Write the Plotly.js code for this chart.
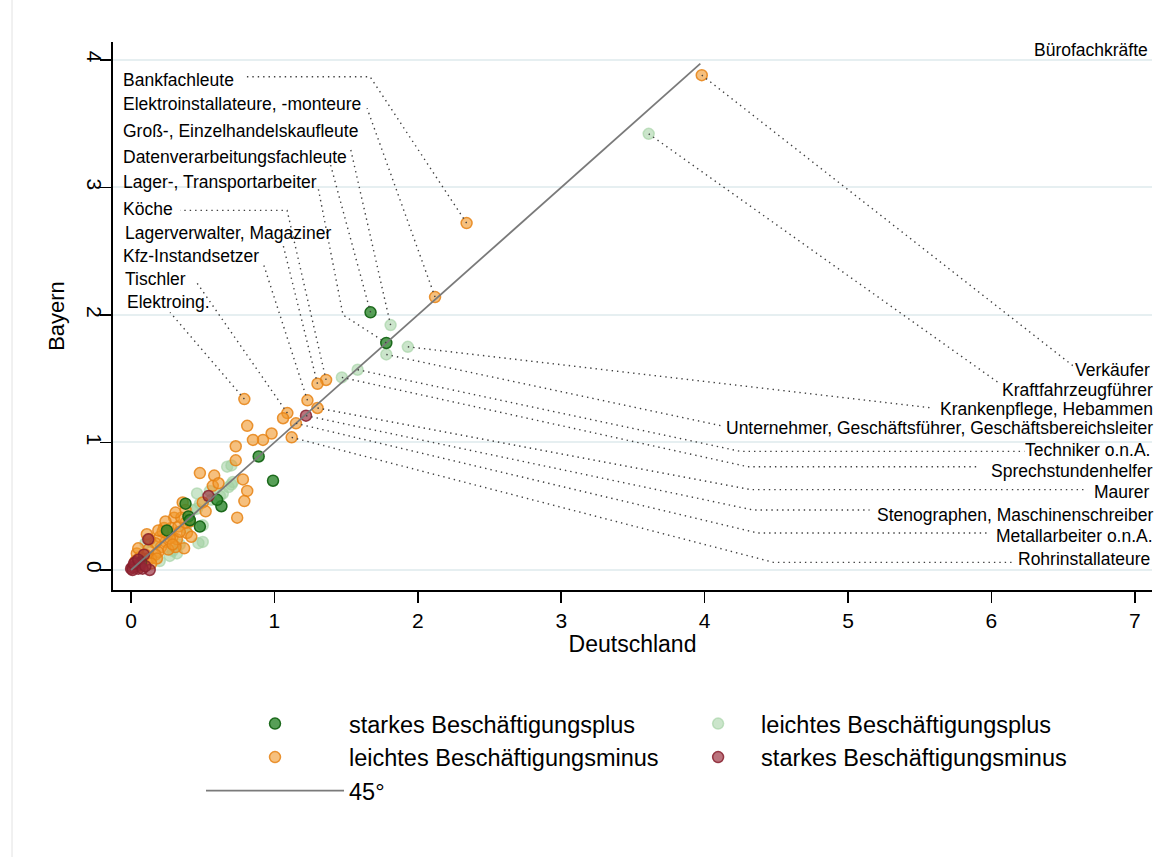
<!DOCTYPE html>
<html><head><meta charset="utf-8">
<script src="https://cdn.plot.ly/plotly-3.0.1.min.js"></script>
<style>html,body{margin:0;padding:0;background:#fff}</style>
</head><body><div id="chart" style="width:1171px;height:857px"></div>
<script>
// ---- data (share of employment, %) ----
const starkPlusX = [1.67,1.78,0.89,0.99,0.38,0.40,0.41,0.63,0.60,0.48,0.25,0.07];
const starkPlusY = [2.02,1.78,0.89,0.70,0.52,0.42,0.39,0.50,0.55,0.34,0.31,0.06];

const leichtPlusX = [3.61,1.81,1.93,1.78,1.58,1.47,0.67,0.70,0.68,0.70,0.64,0.46,0.48,0.46,0.50,0.47,0.50,0.32,0.20,0.14,0.10,0.43,0.71,0.56,0.34,0.27,0.55,0.62,0.38,0.29];
const leichtPlusY = [3.42,1.92,1.75,1.69,1.57,1.51,0.81,0.82,0.65,0.67,0.60,0.60,0.52,0.48,0.35,0.21,0.22,0.13,0.07,0.22,0.21,0.47,0.69,0.55,0.20,0.11,0.62,0.58,0.33,0.15];

const leichtMinusX = [3.98,2.34,2.12,1.36,1.30,1.23,1.09,0.79,1.30,1.15,1.12,1.06,0.81,0.98,0.92,0.85,0.73,0.73,0.48,0.58,0.57,0.61,0.78,0.81,0.79,0.74,0.36,0.38,0.50,0.52,0.30,0.39,0.37,0.31,0.11,0.28,0.29,0.24,0.21,0.19,0.17,0.14,0.33,0.32,0.26,0.20,0.17,0.12,0.10,0.06,0.04,0.12,0.18,0.38,0.35,0.23,0.25,0.34,0.42,0.14,0.27,0.22,0.29,0.08,0.05,0.13,0.19,0.24,0.31,0.41,0.03,0.07];
const leichtMinusY = [3.88,2.72,2.14,1.49,1.46,1.33,1.23,1.34,1.27,1.15,1.04,1.19,1.13,1.07,1.02,1.02,0.97,0.86,0.76,0.74,0.66,0.68,0.71,0.62,0.54,0.41,0.53,0.47,0.53,0.46,0.41,0.29,0.17,0.18,0.28,0.33,0.26,0.22,0.18,0.14,0.12,0.09,0.34,0.24,0.16,0.26,0.21,0.16,0.12,0.10,0.13,0.09,0.09,0.37,0.41,0.33,0.29,0.30,0.26,0.05,0.25,0.30,0.20,0.06,0.17,0.24,0.31,0.38,0.45,0.38,0.07,0.03];

const starkMinusX = [1.22,0.54,0.12,0.09,0.13,0.03,0.02,0.05,0.00,0.01,0.06,0.03,0.01,0.08,0.02,0.05,0.10];
const starkMinusY = [1.21,0.58,0.24,0.12,0.00,0.03,0.03,0.01,0.01,0.02,0.04,0.06,0.00,0.01,0.05,0.08,0.03];

const diagX = [0, 3.97];
const diagY = [0, 3.97];

const seriesNames = ['starkes Beschäftigungsplus','leichtes Beschäftigungsplus','leichtes Beschäftigungsminus','starkes Beschäftigungsminus'];
const xTicks = [0,1,2,3,4,5,6,7];
const yTicks = [0,1,2,3,4];

// labelled occupations: text, series key, index of its point in that series
const labelText = ['Bürofachkräfte','Bankfachleute','Elektroinstallateure, -monteure','Groß-, Einzelhandelskaufleute','Datenverarbeitungsfachleute','Lager-, Transportarbeiter','Köche','Lagerverwalter, Magaziner','Kfz-Instandsetzer','Tischler','Elektroing.','Verkäufer','Kraftfahrzeugführer','Krankenpflege, Hebammen','Unternehmer, Geschäftsführer, Geschäftsbereichsleiter','Techniker o.n.A.','Sprechstundenhelfer','Maurer','Stenographen, Maschinenschreiber','Metallarbeiter o.n.A.','Rohrinstallateure'];
const labelSeries = [null,'lm','lm','lp','sp','sp','lm','lm','lm','lm','lm','lm','lp','lp','lp','lp','lp','lm','sm','lm','lm'];
const labelIndex  = [null,1,2,1,0,1,3,4,5,6,7,0,0,2,3,4,5,8,0,9,10];

// ---- label placement (data units + pixel nudges) ----
const labelPosX = [7.108,-0.07,-0.07,-0.07,-0.07,-0.07,-0.07,-0.056,-0.07,-0.056,-0.042,7.12,7.12,7.12,7.12,7.12,7.12,7.12,7.12,7.12,7.12];
const labelShift = [0,0,0,0,0,0,0,0,0,0,0,0,3,3,3,0,3,0,3,3,0];
const labelPosY = [4.08,3.84,3.65,3.44,3.24,3.04,2.83,2.64,2.46,2.28,2.10,1.57,1.41,1.26,1.11,0.94,0.78,0.61,0.43,0.27,0.09];
const labelAnchor = ['right','left','left','left','left','left','left','left','left','left','left','right','right','right','right','right','right','right','right','right','right'];
const bendX = [null,1.667,null,null,null,1.478,1.088,null,null,null,null,null,null,null,null,4.25,4.30,4.32,4.34,4.37,4.48];
const bendY = [null,3.867,null,null,null,2.00,2.82,null,null,null,null,null,null,null,null,0.93,0.81,0.63,0.47,0.29,0.06];
const endX  = [null,0.795,1.646,1.527,1.388,1.304,0.342,1.06,0.92,0.46,0.272,6.57,6.06,5.59,4.12,6.23,5.91,6.67,5.15,5.99,6.16];
const endY  = [null,3.867,3.62,3.32,3.19,3.00,2.82,2.55,2.41,2.25,2.02,1.60,1.46,1.27,1.13,0.93,0.81,0.63,0.47,0.29,0.06];

const seriesData = {
  sp: [starkPlusX, starkPlusY],
  lp: [leichtPlusX, leichtPlusY],
  lm: [leichtMinusX, leichtMinusY],
  sm: [starkMinusX, starkMinusY]
};

// leader lines
const leadX = [], leadY = [];
labelText.forEach((t, i) => {
  const s = labelSeries[i];
  if (!s || endX[i] === null) return;
  const px = seriesData[s][0][labelIndex[i]], py = seriesData[s][1][labelIndex[i]];
  leadX.push(px); leadY.push(py);
  if (bendX[i] !== null) { leadX.push(bendX[i]); leadY.push(bendY[i]); }
  leadX.push(endX[i]); leadY.push(endY[i]);
  leadX.push(null); leadY.push(null);
});

const FONT = 'Liberation Sans, Arial, sans-serif';
const mk = (fill, edge) => ({size: 11, color: fill, line: {color: edge, width: 1.5}});

const traces = [
  {type:'scatter', mode:'markers', name: seriesNames[1], x: leichtPlusX, y: leichtPlusY,
   legend:'legend2', legendrank: 1,
   marker: mk('rgba(160,208,160,0.55)','rgba(160,208,160,0.6)'), hoverinfo:'x+y'},
  {type:'scatter', mode:'markers', name: seriesNames[2], x: leichtMinusX, y: leichtMinusY,
   legend:'legend', legendrank: 2,
   marker: mk('rgba(240,150,40,0.6)','rgba(230,130,20,0.85)'), hoverinfo:'x+y'},
  {type:'scatter', mode:'markers', name: seriesNames[0], x: starkPlusX, y: starkPlusY,
   legend:'legend', legendrank: 1,
   marker: mk('rgba(45,135,45,0.8)','rgba(20,100,20,0.95)'), hoverinfo:'x+y'},
  {type:'scatter', mode:'markers', name: seriesNames[3], x: starkMinusX, y: starkMinusY,
   legend:'legend2', legendrank: 2,
   marker: mk('rgba(150,40,55,0.65)','rgba(135,30,45,0.85)'), hoverinfo:'x+y'},
  {type:'scatter', mode:'lines', name: '45°', x: diagX, y: diagY,
   legend:'legend', legendrank: 3,
   line: {color:'#7a7a7a', width: 1.8}, hoverinfo:'skip'},
  {type:'scatter', mode:'lines', x: leadX, y: leadY, showlegend:false, hoverinfo:'skip',
   line: {color:'#404040', width: 1.4, dash:'1.4px,4px'}}
];

const annotations = labelText.map((t, i) => ({
  x: labelPosX[i], y: labelPosY[i], xref:'x', yref:'y', text: t, showarrow:false,
  xanchor: labelAnchor[i], yanchor:'middle', xshift: labelShift[i],
  font:{family: FONT, size: 17.5, color:'#000'}
}));

const legendFont = {family: FONT, size: 23.5, color:'#000'};

const layout = {
  width: 1171, height: 857,
  margin: {l:113, r:19, t:42, b:267},
  paper_bgcolor:'#fff', plot_bgcolor:'#fff',
  font: {family: FONT, color:'#000'},
  showlegend: true,
  legend: {orientation:'v', x: 0.0847, xanchor:'left', y: -0.204, yanchor:'top',
           itemwidth: 138, font: legendFont, bgcolor:'rgba(0,0,0,0)', traceorder:'normal'},
  legend2: {orientation:'v', x: 0.541, xanchor:'left', y: -0.204, yanchor:'top',
           itemwidth: 76, font: legendFont, bgcolor:'rgba(0,0,0,0)', traceorder:'normal'},
  xaxis: {range:[-0.126, 7.12], tickvals: xTicks, ticktext: xTicks.map(String),
          ticks:'outside', ticklen: 11, tickwidth: 1.5, tickcolor:'#000',
          showline:true, linecolor:'#000', linewidth: 2, showgrid:false, zeroline:false,
          tickfont:{family: FONT, size: 21, color:'#000'},
          title:{text:'Deutschland', font:{family: FONT, size: 23, color:'#000'}, standoff: 5}},
  yaxis: {range:[-0.157, 4.14], tickvals: yTicks, ticktext: yTicks.map(String), tickangle: 90,
          ticks:'outside', ticklen: 11, tickwidth: 1.5, tickcolor:'#000',
          showline:true, linecolor:'#000', linewidth: 2,
          showgrid:true, gridcolor:'#e6eff1', gridwidth: 2, zeroline:false,
          tickfont:{family: FONT, size: 21, color:'#000'}, ticklabelstandoff: -12,
          title:{text:'Bayern', font:{family: FONT, size: 22, color:'#000'}, standoff: 12}},
  annotations: annotations,
  shapes: [{type:'line', xref:'paper', yref:'paper', x0:-0.0972, x1:-0.0972, y0:-0.49, y1:1.08,
            line:{color:'#e2e2e2', width:1}}]
};

Plotly.newPlot('chart', traces, layout, {displayModeBar:false, staticPlot:true});
</script></body></html>
